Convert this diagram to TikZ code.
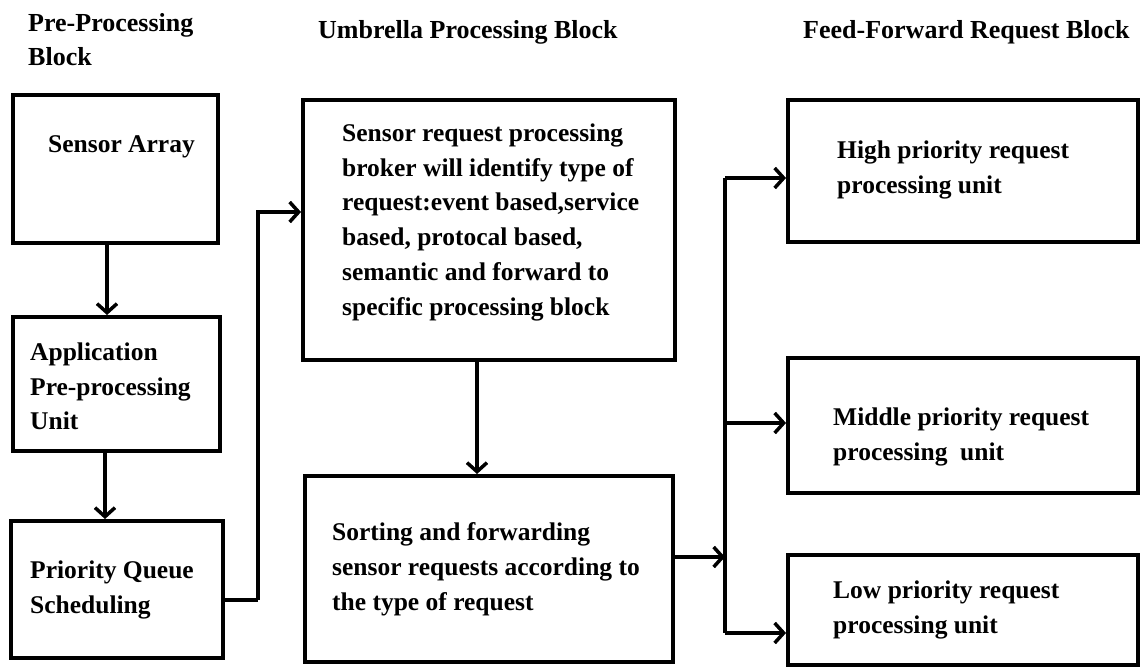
\documentclass[tikz,border=0pt]{standalone}
\usepackage{fontspec}
\setmainfont{Liberation Serif}
\usetikzlibrary{arrows.meta}
\tikzset{
  box/.style={draw, line width=4pt, rectangle, inner sep=0pt},
  txt/.style={anchor=north west, align=left, inner sep=0pt, font=\bfseries\fontsize{25.5}{34.8}\selectfont},
  hdr/.style={anchor=north west, align=left, inner sep=0pt, font=\bfseries\fontsize{26}{34}\selectfont},
  conn/.style={line width=4pt, -{Straight Barb[length=9pt,width=20pt,line width=3.5pt]}},
  wire/.style={line width=4pt}
}
\begin{document}
\begin{tikzpicture}[x=1pt,y=-1pt]
\useasboundingbox (0,0) rectangle (1140,668);
% boxes
\node[box, minimum width=205pt, minimum height=148pt] (sa) at (115.5,169) {};
\node[box, minimum width=207pt, minimum height=134pt] (app) at (116.5,384) {};
\node[box, minimum width=212pt, minimum height=137pt] (pq) at (117,589.5) {};
\node[box, minimum width=372pt, minimum height=260pt] (broker) at (489,230) {};
\node[box, minimum width=368pt, minimum height=186pt] (sort) at (489,569) {};
\node[box, minimum width=350pt, minimum height=142pt] (high) at (963,171) {};
\node[box, minimum width=350pt, minimum height=135pt] (mid) at (963,425.5) {};
\node[box, minimum width=350pt, minimum height=110pt] (low) at (963,610) {};
% headers
\node[hdr] (h1) at (28,13) {Pre-Processing\\Block};
\node[hdr] (h2) at (318,20.5) {Umbrella Processing Block};
\node[hdr] (h3) at (803,20.5) {Feed-Forward Request Block};
% texts
\node[txt] (tsa) at (48,135.5) {Sensor Array};
\node[txt] (tapp) at (30,342.5) {Application\\Pre-processing\\Unit};
\node[txt] (tpq) at (30,560.5) {Priority Queue\\Scheduling};
\node[txt] (tbr) at (342,123.5) {Sensor request processing\\broker will identify type of\\request:event based,service\\based, protocal based,\\semantic and forward to\\specific processing block};
\node[txt] (tso) at (332,522.5) {Sorting and forwarding\\sensor requests according to\\the type of request};
\node[txt] (thi) at (837,140.5) {High priority request\\processing unit};
\node[txt] (tmi) at (833,407.5) {Middle priority request\\processing\ \ unit};
\node[txt] (tlo) at (833,580.5) {Low priority request\\processing unit};
% connectors
\draw[conn] (sa.south -| 107,0) -- (app.north -| 107,0);
\draw[conn] (app.south -| 105,0) -- (pq.north -| 105,0);
\coordinate (c1) at (258,600);
\coordinate (c2) at (258,212);
\draw[wire] (c1 -| pq.east) -- (c1);
\draw[conn] (c1) -- (c2) -- (c2 -| broker.west);
\draw[conn] (broker.south -| 477,0) -- (sort.north -| 477,0);
\coordinate (j) at (725,557);
\coordinate (bt) at (725,178);
\coordinate (bm) at (725,423);
\coordinate (bb) at (725,633);
\draw[wire] (bt) -- (bb);
\draw[conn] (j -| sort.east) -- (j);
\draw[conn] (bt) -- (bt -| high.west);
\draw[conn] (bm) -- (bm -| mid.west);
\draw[conn] (bb) -- (bb -| low.west);
\end{tikzpicture}
\end{document}
